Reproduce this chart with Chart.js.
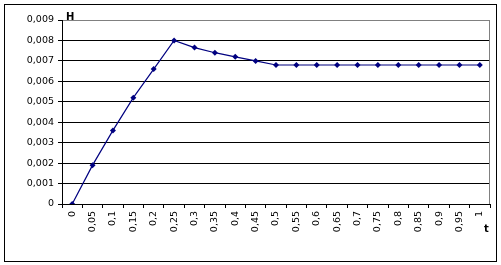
<!DOCTYPE html>
<html>
<head>
  <meta charset="UTF-8" />
  <title>H(t)</title>
  <script src="https://cdn.jsdelivr.net/npm/chart.js"></script>
  <style>
    body {
      margin: 0;
      background: #fff;
    }
    canvas {
      display: block;
    }
  </style>
</head>
<body>

<canvas id="hChart" width="501" height="265"></canvas>

<script>
  const categories = ['0', '0,05', '0,1', '0,15', '0,2', '0,25', '0,3', '0,35', '0,4', '0,45', '0,5',
    '0,55', '0,6', '0,65', '0,7', '0,75', '0,8', '0,85', '0,9', '0,95', '1'];
  const hValues = [0, 0.0019, 0.0036, 0.0052, 0.0066, 0.0080, 0.00765, 0.0074, 0.0072, 0.0070, 0.0068,
    0.0068, 0.0068, 0.0068, 0.0068, 0.0068, 0.0068, 0.0068, 0.0068, 0.0068, 0.0068];
  const yTickLabels = ['0', '0,001', '0,002', '0,003', '0,004', '0,005', '0,006', '0,007', '0,008', '0,009'];

  const navy = '#000080';
  const tickFont = { family: 'DejaVu Sans', size: 9.5 };

  // frame, gray right edge, axis names
  const decor = {
    id: 'decor',
    beforeDraw(chart) {
      const c = chart.ctx;
      c.save();
      c.strokeStyle = '#000';
      c.lineWidth = 1;
      c.strokeRect(4.5, 4.5, 492, 257);
      c.restore();
    },
    afterDatasetsDraw(chart) {
      const c = chart.ctx;
      const a = chart.chartArea;
      c.save();
      c.strokeStyle = '#808080';
      c.lineWidth = 1;
      c.beginPath();
      c.moveTo(a.right - 0.5, a.top);
      c.lineTo(a.right - 0.5, a.bottom);
      c.stroke();
      c.fillStyle = '#000';
      c.font = 'bold 10px "DejaVu Sans"';
      c.textAlign = 'left';
      c.textBaseline = 'alphabetic';
      c.fillText('H', a.left + 4, a.top);
      c.fillText('t', a.right - 6, 232);
      c.restore();
    }
  };

  new Chart(document.getElementById('hChart'), {
    type: 'line',
    data: {
      labels: categories,
      datasets: [{
        data: hValues,
        borderColor: navy,
        borderWidth: 1.2,
        backgroundColor: navy,
        pointStyle: 'rectRot',
        pointRadius: 3,
        pointBorderWidth: 0,
        tension: 0
      }]
    },
    options: {
      responsive: false,
      animation: false,
      layout: { padding: { left: 0, top: 20, right: 11, bottom: 0 } },
      plugins: {
        legend: { display: false },
        tooltip: { enabled: false }
      },
      scales: {
        x: {
          offset: true,
          grid: {
            offset: true,
            drawOnChartArea: false,
            drawTicks: true,
            tickLength: 4,
            tickColor: '#000'
          },
          border: { color: '#000' },
          ticks: {
            color: '#000',
            font: tickFont,
            minRotation: 90,
            maxRotation: 90,
            padding: 3,
            autoSkip: false
          },
          afterFit(scale) { scale.height = 61; }
        },
        y: {
          min: 0,
          max: 0.009,
          grid: {
            color: ctx => ctx.index === yTickLabels.length - 1 ? '#808080' : '#000',
            tickColor: '#000',
            tickLength: 4
          },
          border: { color: '#000' },
          ticks: {
            stepSize: 0.001,
            color: '#000',
            font: tickFont,
            padding: 4,
            callback: (v, i) => yTickLabels[i]
          },
          afterFit(scale) { scale.width = 62; }
        }
      }
    },
    plugins: [decor]
  });
</script>

</body>
</html>
